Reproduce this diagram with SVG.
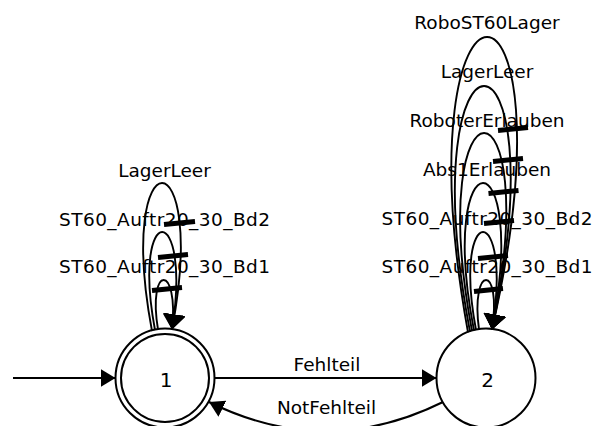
<svg xmlns="http://www.w3.org/2000/svg" width="595" height="426" viewBox="0 0 595 426">
  <style>
    .node { fill: #ffffff; stroke: #000000; stroke-width: 2; }
    .edge { fill: none; stroke: #000000; stroke-width: 2; }
    .loop { fill: none; stroke: #000000; stroke-width: 1.9; }
    .bar { stroke: #000000; stroke-width: 5; stroke-linecap: butt; }
    .lbl { font-family: "DejaVu Sans", Verdana, sans-serif; font-size: 18.5px; fill: #000000; text-anchor: middle; }
    .num { font-family: "DejaVu Sans", Verdana, sans-serif; font-size: 20px; fill: #000000; text-anchor: middle; }
  </style>
  <defs>
    <marker id="arrow" markerUnits="userSpaceOnUse" viewBox="0 0 15 18" markerWidth="15" markerHeight="18" refX="15" refY="9" orient="auto">
      <path d="M0,0 L15,9 L0,18 Z" fill="#000000"/>
    </marker>
    <marker id="loopArrow" markerUnits="userSpaceOnUse" viewBox="0 0 15 22" markerWidth="15" markerHeight="22" refX="15" refY="11" orient="auto">
      <path d="M0,0 L15,11 L0,22 Z" fill="#000000"/>
    </marker>
  </defs>

  <rect width="595" height="426" fill="#ffffff"/>

  <!-- states -->
  <g id="state1">
    <circle class="node" cx="165" cy="378" r="49.5"/>
    <circle class="node" cx="165" cy="378" r="44"/>
    <text class="num" x="166" y="387">1</text>
  </g>
  <g id="state2">
    <circle class="node" cx="486" cy="378" r="49.5"/>
    <text class="num" x="487.5" y="387">2</text>
  </g>

  <!-- transitions -->
  <g id="connectors">
    <!-- labels -->
    <text class="lbl" x="164.5" y="176.5">LagerLeer</text>
    <text class="lbl" x="164.5" y="225.5" textLength="211" lengthAdjust="spacing">ST60_Auftr20_30_Bd2</text>
    <text class="lbl" x="164.5" y="273" textLength="211" lengthAdjust="spacing">ST60_Auftr20_30_Bd1</text>

    <text class="lbl" x="487" y="29">RoboST60Lager</text>
    <text class="lbl" x="487" y="78">LagerLeer</text>
    <text class="lbl" x="487" y="127">RoboterErlauben</text>
    <text class="lbl" x="487" y="176">Abs1Erlauben</text>
    <text class="lbl" x="487" y="225" textLength="211" lengthAdjust="spacing">ST60_Auftr20_30_Bd2</text>
    <text class="lbl" x="487" y="273" textLength="211" lengthAdjust="spacing">ST60_Auftr20_30_Bd1</text>

    <text class="lbl" x="327" y="371">Fehlteil</text>
    <text class="lbl" x="326.5" y="414">NotFehlteil</text>

    <!-- start arrow -->
    <line class="edge" x1="13" y1="378" x2="115.5" y2="378" marker-end="url(#arrow)"/>

    <!-- 1 -> 2 -->
    <line class="edge" x1="214.5" y1="378" x2="436.5" y2="378" marker-end="url(#arrow)"/>
    <!-- 2 -> 1 -->
    <path class="edge" d="M443,402 Q326,460 209,402" marker-end="url(#arrow)"/>

    <!-- self loops on state 1 -->
    <path class="loop" d="M152,331 C115,134 209,134 172,329.4" marker-end="url(#loopArrow)"/>
    <path class="loop" d="M155,330 C130.7,199.5 192.7,199.5 172,329.4" marker-end="url(#loopArrow)"/>
    <path class="loop" d="M158,329.5 C147.2,263.5 179.2,263.5 172,329.4" marker-end="url(#loopArrow)"/>

    <!-- self loops on state 2 -->
    <path class="loop" d="M468,332.4 C397.3,-60.9 581.3,-60.9 492,329.4" marker-end="url(#loopArrow)"/>
    <path class="loop" d="M470,331.7 C408,4.5 562,4.5 492,329.4" marker-end="url(#loopArrow)"/>
    <path class="loop" d="M472,331 C422.7,67.3 546.7,67.3 492,329.4" marker-end="url(#loopArrow)"/>
    <path class="loop" d="M474,330.5 C436,134 530,134 492,329.4" marker-end="url(#loopArrow)"/>
    <path class="loop" d="M476,330 C451.7,199.5 513.7,199.5 492,329.4" marker-end="url(#loopArrow)"/>
    <path class="loop" d="M479,329.5 C470.2,263.5 502.2,263.5 492,329.4" marker-end="url(#loopArrow)"/>

    <!-- bars on the loop legs -->
    <line class="bar" x1="164" y1="224.5" x2="195" y2="221.5"/>
    <line class="bar" x1="158" y1="257.5" x2="188" y2="254.5"/>
    <line class="bar" x1="152" y1="290.5" x2="182" y2="287.5"/>

    <line class="bar" x1="498" y1="130.5" x2="528" y2="127.5"/>
    <line class="bar" x1="493" y1="161.5" x2="523" y2="158.5"/>
    <line class="bar" x1="488.5" y1="193.5" x2="518.5" y2="190.5"/>
    <line class="bar" x1="484" y1="223.5" x2="514" y2="220.5"/>
    <line class="bar" x1="478" y1="258.5" x2="508" y2="255.5"/>
    <line class="bar" x1="474" y1="291.5" x2="503" y2="288.5"/>
  </g>
</svg>
